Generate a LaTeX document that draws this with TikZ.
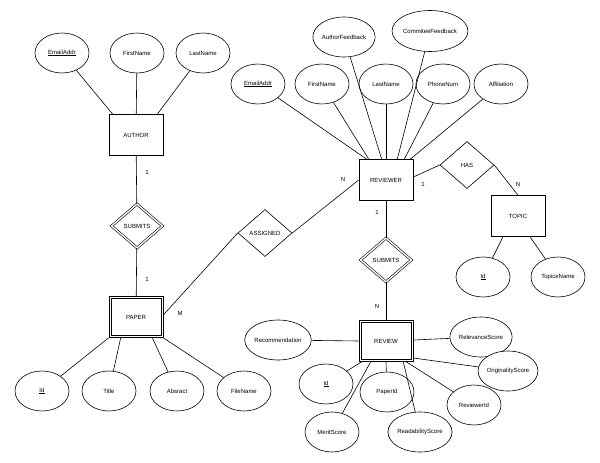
\documentclass[tikz,border=0pt]{standalone}
\usepackage{fontspec}
\setmainfont{Liberation Sans}
\usetikzlibrary{shapes.geometric}

\begin{document}
\begin{tikzpicture}[x=1pt,y=1pt]
	\tikzstyle{every node}+=[inner sep=0pt, font=\fontsize{6}{7}\selectfont]
	\tikzstyle{entity}=[draw=black, fill=white, line width=0.6pt, minimum width=54pt, minimum height=41pt]
	\tikzstyle{attrib}=[draw=black, fill=white, line width=0.6pt, ellipse, minimum width=54pt, minimum height=40pt]
	\tikzstyle{relation}=[draw=black, fill=white, line width=0.6pt, diamond, aspect=1.15, minimum width=54pt, minimum height=47pt]
	\tikzstyle{weakrelation}=[relation, double, double distance=1.4pt, minimum width=51pt, minimum height=44pt]
	\tikzstyle{link}=[black, line width=0.6pt]
	\useasboundingbox (0,0) rectangle (600,-463);
	% entities and relations
	\node [entity] (author) at (136,-135) {AUTHOR};
	\node [weakrelation] (asubmits) at (137,-226) {SUBMITS};
	\node [entity] (paper) at (136,-317) {PAPER};
	\draw [link] ([shift={(2.5pt,-2.5pt)}]paper.north west) rectangle ([shift={(-2.5pt,2.5pt)}]paper.south east);
	\node [relation] (assigned) at (265,-233) {ASSIGNED};
	\node [entity] (reviewer) at (386,-180) {REVIEWER};
	\node [relation] (has) at (467,-165) {HAS};
	\node [entity] (topic) at (518,-216) {TOPIC};
	\node [weakrelation] (rsubmits) at (386,-260) {SUBMITS};
	\node [entity] (review) at (386,-341) {REVIEW};
	\draw [link] ([shift={(2.5pt,-2.5pt)}]review.north west) rectangle ([shift={(-2.5pt,2.5pt)}]review.south east);
	% author attributes
	\node [attrib] (aemail) at (62,-53) {\underline{EmailAddr}};
	\node [attrib] (afirst) at (137,-53) {FirstName};
	\node [attrib] (alast) at (203,-53) {LastName};
	% reviewer attributes
	\node [attrib, minimum width=50pt] (rauthorfb) at (344,-37) {AuthorFeedback};
	\node [attrib, minimum width=60pt, minimum height=41pt] (rcommfb) at (430,-31) {CommiteeFeedback};
	\node [attrib] (remail) at (258,-84) {\underline{EmailAddr}};
	\node [attrib] (rfirst) at (322,-84) {FirstName};
	\node [attrib] (rlast) at (386,-84) {LastName};
	\node [attrib] (rphone) at (443,-84) {PhoneNum};
	\node [attrib] (raffil) at (501,-84) {Affiliation};
	% topic attributes
	\node [attrib] (tid) at (483,-277) {\underline{Id}};
	\node [attrib] (tname) at (558,-277) {TopiceName};
	% paper attributes
	\node [attrib] (pid) at (42,-391) {\underline{Id}};
	\node [attrib] (ptitle) at (109,-391) {Title};
	\node [attrib] (pabstract) at (177,-391) {Absract};
	\node [attrib] (pfile) at (244,-391) {FileName};
	% review attributes
	\node [attrib] (vrecom) at (278,-340) {Recommendation};
	\node [attrib] (vrelev) at (481,-337) {RelevanceScore};
	\node [attrib] (vorig) at (508,-371) {OriginalityScore};
	\node [attrib] (vrevid) at (474,-405) {ReviewerId};
	\node [attrib] (vpaperid) at (387,-392) {PaperId};
	\node [attrib] (vread) at (420,-432) {ReadabilityScore};
	\node [attrib] (vid) at (326,-384) {\underline{Id}};
	\node [attrib] (vmerit) at (332,-432) {MeritScore};
	% links
	\draw [link] (aemail) -- ([xshift=4pt]author.north west);
	\draw [link] (afirst) -- (author);
	\draw [link] (alast) -- ([xshift=-6pt]author.north east);
	\draw [link] (author) -- (asubmits);
	\draw [link] (asubmits) -- (paper);
	\draw [link] ([yshift=2pt]paper.east) -- (assigned.west);
	\draw [link] (assigned.east) -- (reviewer.west);
	\draw [link] ([yshift=3pt]reviewer.east) -- (has.west);
	\draw [link] (has.east) -- (topic.north);
	\draw [link] ([xshift=-15pt]topic.south) -- (tid);
	\draw [link] ([xshift=12pt]topic.south) -- (tname);
	\draw [link] (reviewer) -- (rsubmits);
	\draw [link] (rsubmits) -- (review);
	\draw [link] (remail) -- ([xshift=8pt]reviewer.north west);
	\draw [link] (rfirst) -- ([xshift=10pt]reviewer.north west);
	\draw [link] (rauthorfb) -- ([xshift=23pt]reviewer.north west);
	\draw [link] (rlast) -- (reviewer.north);
	\draw [link] (rcommfb) -- ([xshift=-16pt]reviewer.north east);
	\draw [link] (rphone) -- ([xshift=-9pt]reviewer.north east);
	\draw [link] (raffil) -- ([xshift=-3pt]reviewer.north east);
	\draw [link] (paper.south west) -- (pid);
	\draw [link] ([xshift=12pt]paper.south west) -- (ptitle);
	\draw [link] ([xshift=-11pt]paper.south east) -- (pabstract);
	\draw [link] (paper.south east) -- (pfile);
	\draw [link] (vrecom) -- (review.west);
	\draw [link] ([yshift=1pt]review.east) -- (vrelev);
	\draw [link] ([yshift=-17pt]review.east) -- (vorig);
	\draw [link] ([xshift=-7pt]review.south east) -- (vrevid);
	\draw [link] ([xshift=-10pt]review.south east) -- (vread);
	\draw [link] (review.south) -- (vpaperid);
	\draw [link] ([xshift=3pt]review.south west) -- (vid);
	\draw [link] ([xshift=12pt]review.south west) -- (vmerit);
	% cardinalities
	\node (c1) at (147,-172) {1};
	\node (c2) at (147,-279) {1};
	\node (c3) at (180,-313) {M};
	\node (c4) at (343,-179) {N};
	\node (c5) at (423,-184) {1};
	\node (c6) at (518,-184) {N};
	\node (c7) at (377,-212) {1};
	\node (c8) at (377,-306) {N};
\end{tikzpicture}
\end{document}
